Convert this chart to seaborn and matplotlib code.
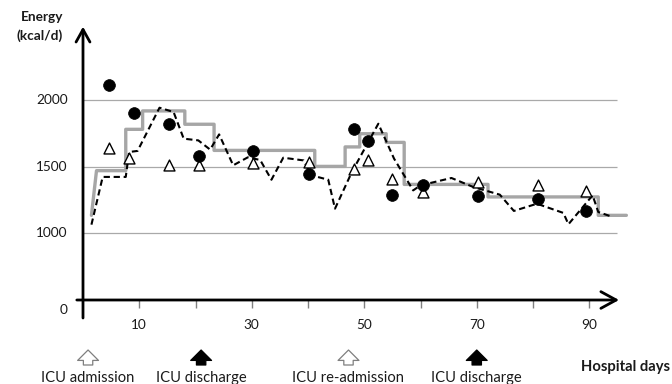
import matplotlib
matplotlib.use("Agg")
import matplotlib.pyplot as plt
import pandas as pd
import seaborn as sns

# ---------------- data ----------------
# dashed line (energy actually delivered)
dashed_days = [1.5, 3.5, 7.6, 8.2, 9.7, 13.6, 16.1, 17.9, 20.5, 22.6, 24.2, 26.7,
               29.3, 31.5, 33.5, 35.6, 39.2, 40.6, 43.6, 44.8, 47.8, 52.5, 55.3,
               58.7, 60.0, 65.5, 69.4, 74.1, 76.6, 80.7, 85.4, 86.3, 90.6, 91.6, 94.2]
dashed_kcal = [1065, 1423, 1423, 1610, 1618, 1942, 1910, 1710, 1697, 1628, 1742, 1510,
               1570, 1550, 1402, 1567, 1547, 1435, 1402, 1185, 1460, 1822, 1560,
               1322, 1360, 1415, 1347, 1290, 1168, 1222, 1153, 1068, 1285, 1160, 1122]

# grey step line (prescribed target)
step_start_day = [1.5, 2.4]
step_start_kcal = [1135, 1470]
step_change_days = [7.6, 10.6, 18.1, 23.3, 41.2, 46.6, 49.2, 53.9, 57.1, 72.0, 91.6]
step_levels = [1780, 1918, 1818, 1622, 1502, 1648, 1747, 1682, 1367, 1273, 1135]
step_end_day = 96.6

# filled circles
circle_days = [4.7, 9.1, 15.3, 20.6, 30.3, 40.1, 48.1, 50.7, 55.0, 60.4, 70.3, 80.8, 89.5]
circle_kcal = [2115, 1905, 1822, 1580, 1617, 1447, 1785, 1693, 1285, 1365, 1280, 1255, 1165]

# open triangles
tri_days = [4.6, 8.1, 15.2, 20.6, 30.3, 40.1, 48.1, 50.7, 55.0, 60.4, 70.3, 80.8, 89.5]
tri_kcal = [1643, 1565, 1515, 1515, 1525, 1535, 1485, 1547, 1410, 1310, 1385, 1360, 1318]

y_grid = [1000, 1500, 2000]
y_labels = ["1000", "1500", "2000"]
x_ticks = [10, 20, 30, 40, 50, 60, 70, 80, 90]
x_labels = ["10", "", "30", "", "50", "", "70", "", "90"]

events = ["ICU admission", "ICU discharge", "ICU re-admission", "ICU discharge"]
event_days = [0.9, 21.0, 47.2, 70.0]
event_kind = ["in", "out", "in", "out"]

# build step polyline from the step data
sx = list(step_start_day)
sy = list(step_start_kcal)
prev = step_start_kcal[-1]
for d, lv in zip(step_change_days, step_levels):
    sx += [d, d]
    sy += [prev, lv]
    prev = lv
sx.append(step_end_day)
sy.append(prev)
step_df = pd.DataFrame({"day": sx, "kcal": sy})
dash_df = pd.DataFrame({"day": dashed_days, "kcal": dashed_kcal})
circ_df = pd.DataFrame({"day": circle_days, "kcal": circle_kcal})
tri_df = pd.DataFrame({"day": tri_days, "kcal": tri_kcal})

# ---------------- figure ----------------
sns.set_theme(style="white")
plt.rcParams["font.family"] = ["Lato", "DejaVu Sans"]
FS = 9.8
FS_TXT = 10.6

W, H = 672, 384
fig = plt.figure(figsize=(W / 100, H / 100), dpi=100)
x0_px, x_per_day = 83.0, 5.625
y500_px, y_per_kcal = 300.0, 66.67 / 500
XMAX, YMIN, YMAX = 100, 500, 2550
ax = fig.add_axes([x0_px / W, (H - y500_px) / H,
                   XMAX * x_per_day / W, (YMAX - YMIN) * y_per_kcal / H])
ax.set_xlim(0, XMAX)
ax.set_ylim(YMIN, YMAX)
for s in ax.spines.values():
    s.set_visible(False)

# grid lines
ax.hlines(y_grid, 0, 95, colors="#a9a9a9", linewidth=0.9, zorder=1)

sns.lineplot(data=step_df, x="day", y="kcal", sort=False, estimator=None,
             color="#a6a6a6", linewidth=2.4, ax=ax, zorder=2)
sns.lineplot(data=dash_df, x="day", y="kcal", sort=False, estimator=None,
             color="black", linewidth=1.5, ax=ax, zorder=3)
ax.lines[-1].set_dashes((3.0, 1.8))
sns.scatterplot(data=circ_df, x="day", y="kcal", marker="o", s=72, color="black",
                edgecolor="black", linewidth=0.5, ax=ax, zorder=5)
sns.scatterplot(data=tri_df, x="day", y="kcal", marker="^", s=62, facecolor="white",
                edgecolor="black", linewidth=1.0, ax=ax, zorder=4)

ax.set_xlabel("")
ax.set_ylabel("")
ax.set_xticks(x_ticks)
ax.set_xticklabels(x_labels, fontsize=FS, color="#1a1a1a")
ax.tick_params(axis="x", direction="out", length=5.5, width=1.0, color="#808080",
               pad=8, bottom=True)
ax.set_yticks([])

# axes with arrows
ax.annotate("", xy=(95.3, 500), xytext=(-1.1, 500),
            arrowprops=dict(arrowstyle="->,head_length=0.55,head_width=0.3",
                            lw=2.0, color="black", shrinkA=0, shrinkB=0,
                            mutation_scale=20),
            annotation_clip=False, zorder=6)
ax.annotate("", xy=(0, 2550), xytext=(0, 365),
            arrowprops=dict(arrowstyle="->,head_length=0.45,head_width=0.25",
                            lw=2.0, color="black", shrinkA=0, shrinkB=0,
                            mutation_scale=20),
            annotation_clip=False, zorder=6)

# y labels
for v, lab in zip(y_grid, y_labels):
    ax.text(-2.7, v, lab, ha="right", va="center", fontsize=FS, color="#1a1a1a",
            clip_on=False)
ax.text(-2.7, 425, "0", ha="right", va="center", fontsize=FS, color="#1a1a1a",
        clip_on=False)

fig.text(63 / W, (H - 21) / H, "Energy", ha="right", va="baseline",
         fontsize=FS, fontweight="bold", color="#1a1a1a")
fig.text(63 / W, (H - 40) / H, "(kcal/d)", ha="right", va="baseline",
         fontsize=FS, fontweight="bold", color="#1a1a1a")

# event arrows and labels
for name, d, kind in zip(events, event_days, event_kind):
    fc = "white" if kind == "in" else "black"
    ec = "#7f7f7f" if kind == "in" else "black"
    ax.annotate("", xy=(d, 34), xytext=(d, 19),
                xycoords=("data", "figure pixels"),
                textcoords=("data", "figure pixels"),
                arrowprops=dict(arrowstyle="simple,head_length=0.5,head_width=1.0,tail_width=0.45",
                                fc=fc, ec=ec, lw=0.9, shrinkA=0, shrinkB=0,
                                mutation_scale=15),
                annotation_clip=False)
    ax.annotate(name, xy=(d, 2.0), xycoords=("data", "figure pixels"),
                ha="center", va="baseline", fontsize=FS_TXT, color="#1a1a1a",
                annotation_clip=False)

fig.text(670 / W, 13 / H, "Hospital days", ha="right", va="baseline",
         fontsize=FS_TXT, fontweight="bold", color="#1a1a1a")

fig.savefig("out.png", dpi=100)
